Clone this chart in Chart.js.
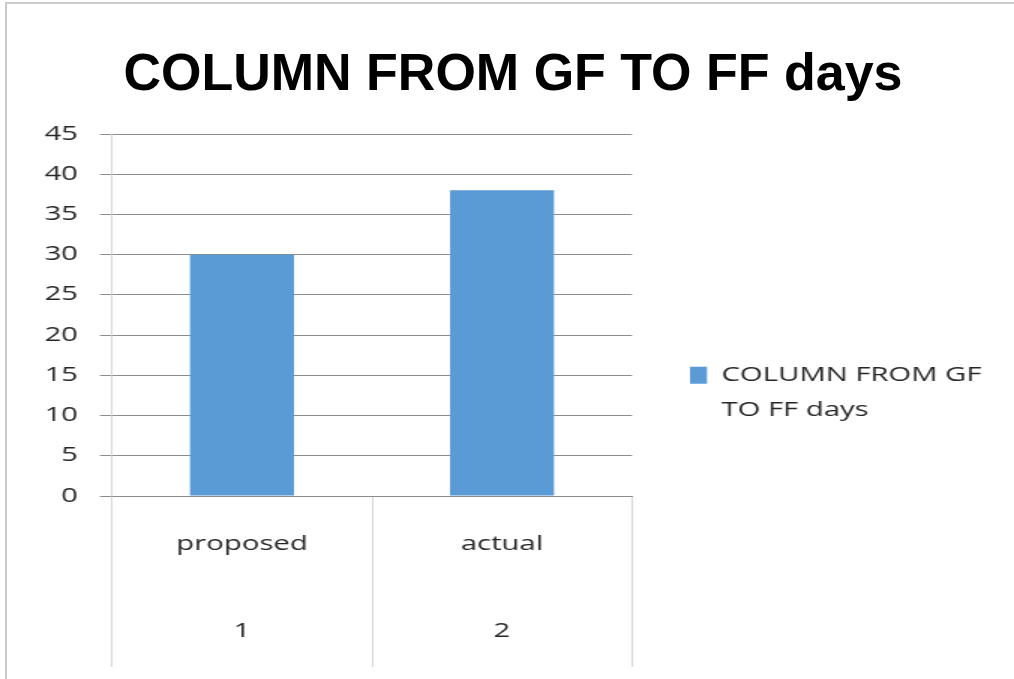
<!DOCTYPE html>
<html>
<head>
<meta charset="utf-8">
<script src="https://cdn.jsdelivr.net/npm/chart.js@4"></script>
<style>
  body { margin: 0; background: #fff; }
  #page { position: relative; width: 1014px; height: 679px; overflow: hidden; }
  #frame { position: absolute; left: 5px; top: 2px; width: 1020px; height: 690px;
           border-top: 2px solid #cbcbcb; border-left: 2px solid #cbcbcb; }
  #title { position: absolute; left: 6px; top: 46px; width: 1014px; text-align: center;
           font: bold 52px "Liberation Sans", Arial, sans-serif; line-height: 1; color: #000; }
  #wrap { position: absolute; left: 0; top: 0; width: 676px; height: 679px;
          transform: scaleX(1.5); transform-origin: 0 0; }
</style>
</head>
<body>
<div id="page">
  <div id="frame"></div>
  <div id="wrap"><canvas id="chart" width="676" height="679"></canvas></div>
  <div id="title"></div>
</div>
<script>
const chartTitle = "COLUMN FROM GF TO FF days";
const seriesName = "COLUMN FROM GF TO FF days";
const legendLines = ["COLUMN FROM GF", "TO FF days"];
const categories = ["proposed", "actual"];
const categoryNumbers = ["1", "2"];
const values = [30, 38];
const yMin = 0, yMax = 45, yStep = 5;

document.getElementById("title").textContent = chartTitle;

const textColor = "#262626";
const labelFont = { family: "'Open Sans', 'Liberation Sans', sans-serif", size: 19.5 };

// Multi-level category labels: name on top, number below
const labels = categories.map((c, i) => [c, "", categoryNumbers[i]]);

new Chart(document.getElementById("chart"), {
  type: "bar",
  data: {
    labels,
    datasets: [{
      label: seriesName,
      data: values,
      backgroundColor: "#5b9bd5",
      borderWidth: 0,
      categoryPercentage: 1,
      barPercentage: 0.4
    }]
  },
  options: {
    responsive: false,
    animation: false,
    devicePixelRatio: 1,
    layout: { padding: { left: 14.67, right: 14.67, top: 134, bottom: 12 } },
    plugins: {
      title: { display: false },
      tooltip: { enabled: false },
      legend: {
        position: "right",
        align: "center",
        maxWidth: 240,
        labels: {
          boxWidth: 11.33,
          boxHeight: 17,
          padding: 38.67,
          color: textColor,
          font: { ...labelFont, lineHeight: 1.8 },
          generateLabels: (chart) =>
            Chart.defaults.plugins.legend.labels.generateLabels(chart)
              .map(item => ({ ...item, text: legendLines, lineWidth: 0 }))
        }
      }
    },
    scales: {
      x: {
        offset: true,
        afterFit: (scale) => { scale.height = 171; },
        grid: {
          offset: true,
          drawOnChartArea: false,
          drawTicks: true,
          tickLength: 171,
          color: "#c0c0c0",
          lineWidth: 0.67
        },
        border: { display: true, color: "#8c8c8c", width: 1 },
        ticks: {
          color: textColor,
          padding: -144,
          maxRotation: 0,
          autoSkip: false,
          font: { ...labelFont, lineHeight: 2.23 }
        }
      },
      y: {
        min: yMin,
        max: yMax,
        afterFit: (scale) => { scale.width = 60; },
        grid: {
          color: "#8c8c8c",
          lineWidth: 1,
          drawTicks: true,
          tickLength: 8
        },
        border: { display: true, color: "#c0c0c0", width: 0.67 },
        ticks: {
          stepSize: yStep,
          color: textColor,
          padding: 14.67,
          font: labelFont
        }
      }
    }
  }
});
</script>
</body>
</html>
